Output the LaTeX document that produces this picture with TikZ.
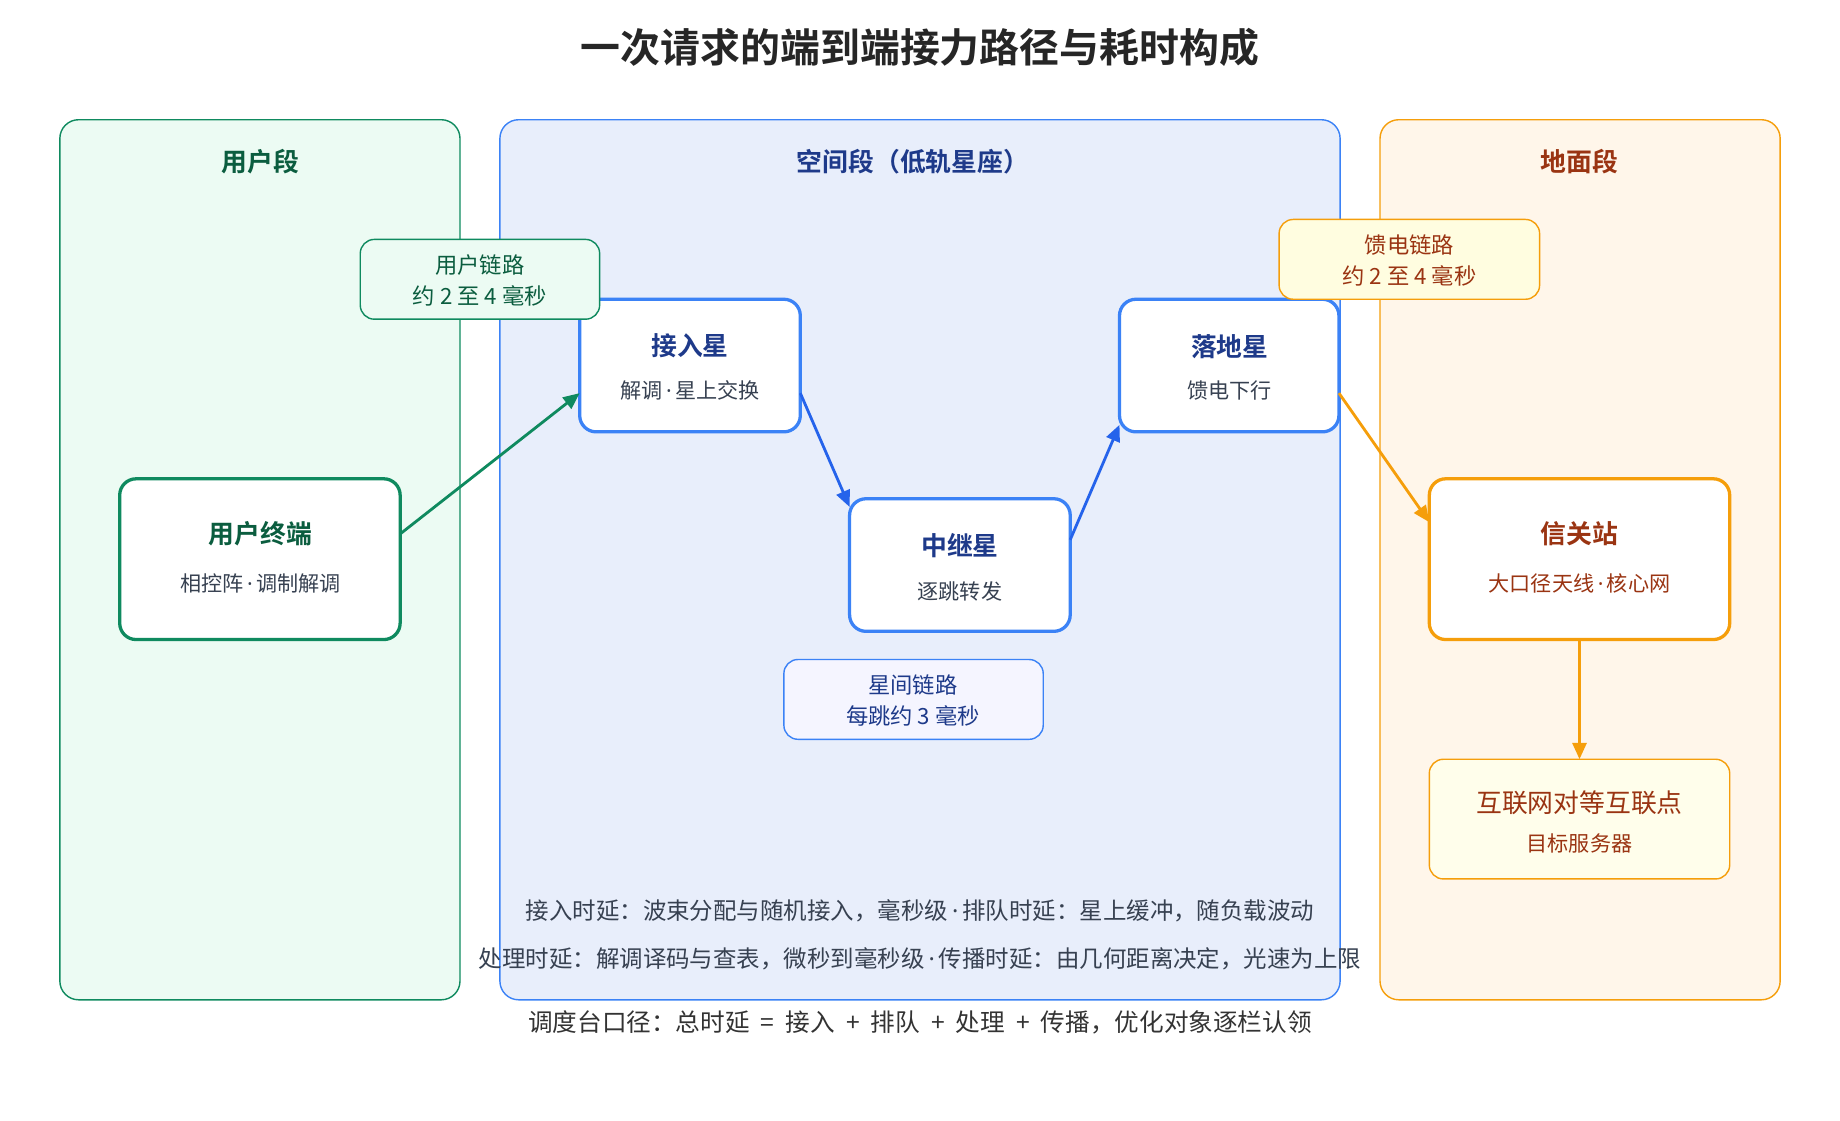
\documentclass[tikz,border=0pt]{standalone}
\usepackage{fontspec}
\setmainfont{Noto Sans CJK SC}
\newfontfamily\cjkb{Noto Sans CJK SC Bold}
\newfontfamily\latn{Noto Sans}
\newcommand{\md}{{\latn\,·\,}}
\usetikzlibrary{arrows.meta}
\definecolor{gB}{HTML}{0F8A5F}\definecolor{gF}{HTML}{ECFBF3}\definecolor{gT}{HTML}{0B5D3F}
\definecolor{bB}{HTML}{3B82F6}\definecolor{bF}{HTML}{E8EEFB}\definecolor{bT}{HTML}{1E3A8A}\definecolor{bA}{HTML}{2563EB}
\definecolor{oB}{HTML}{F59E0B}\definecolor{oF}{HTML}{FFF6EA}\definecolor{oT}{HTML}{9A3412}
\definecolor{tx}{HTML}{374151}
\begin{document}
\begin{tikzpicture}[x=0.5pt,y=-0.5pt,
 panel/.style={draw=#1,rounded corners=8pt,line width=0.6pt},
 box/.style={draw=#1,fill=white,rounded corners=7pt,line width=1.4pt},
 lbl/.style={draw=#1,rounded corners=6pt,line width=0.6pt},
 arr/.style={draw=#1,line width=1.2pt,-{Triangle[length=7pt,width=6pt]}},
 ttl/.style={font=\cjkb\fontsize{11}{13}\selectfont},
 sub/.style={font=\fontsize{9}{11}\selectfont,text=tx}]
\useasboundingbox (0,0) rectangle (1568,955);
\node[font=\cjkb\fontsize{17}{19}\selectfont,text=black!85] (title) at (784,40) {一次请求的端到端接力路径与耗时构成};
\filldraw[panel=gB,fill=gF] (51,102) rectangle (392,852);
\filldraw[panel=bB,fill=bF] (426,102) rectangle (1142,852);
\filldraw[panel=oB,fill=oF] (1176,102) rectangle (1517,852);
\node[ttl,text=gT] (t1) at (222,138) {用户段};
\node[ttl,text=bT] (t2) at (778,138) {空间段（低轨星座）};
\node[ttl,text=oT] (t3) at (1346,138) {地面段};
% nodes
\draw[box=gB] (102,408) rectangle (341,545);
\node[ttl,text=gT] at (222,455) {用户终端};
\node[sub] at (222,497) {相控阵\md 调制解调};
\draw[box=bB] (494,255) rectangle (682,368);
\node[ttl,text=bT] at (588,295) {接入星};
\node[sub] at (588,333) {解调\md 星上交换};
\draw[box=bB] (724,425) rectangle (912,538);
\node[ttl,text=bT] at (818,465) {中继星};
\node[sub] at (818,504) {逐跳转发};
\draw[box=bB] (954,255) rectangle (1141,368);
\node[ttl,text=bT] at (1048,295) {落地星};
\node[sub] at (1048,333) {馈电下行};
\draw[box=oB] (1218,408) rectangle (1474,545);
\node[ttl,text=oT] at (1346,455) {信关站};
\node[sub,text=oT] at (1346,497) {大口径天线\md 核心网};
\filldraw[lbl=oB,fill=yellow!8] (1218,647) rectangle (1474,749);
\node[font=\fontsize{11}{13}\selectfont,text=oT] at (1346,684) {互联网对等互联点};
\node[sub,text=oT] at (1346,719) {目标服务器};
% link labels
\filldraw[lbl=gB,fill=gF] (307,204) rectangle (511,272);
\node[align=center,font=\fontsize{9.5}{13}\selectfont,text=gT] at (409,239) {用户链路\\约 2 至 4 毫秒};
\filldraw[lbl=oB,fill=yellow!12] (1090,187) rectangle (1312,255);
\node[align=center,font=\fontsize{9.5}{13}\selectfont,text=oT] at (1201,222) {馈电链路\\约 2 至 4 毫秒};
\filldraw[lbl=bB,fill=blue!4] (668,562) rectangle (889,630);
\node[align=center,font=\fontsize{9.5}{13}\selectfont,text=bT] at (778,597) {星间链路\\每跳约 3 毫秒};
% arrows
\draw[arr=gB] (341,455) -- (494,335);
\draw[arr=bA] (682,335) -- (724,432);
\draw[arr=bA] (912,460) -- (954,362);
\draw[arr=oB] (1141,335) -- (1218,445);
\draw[arr=oB] (1346,545) -- (1346,647);
% notes
\node[font=\fontsize{10}{12}\selectfont,text=tx] at (784,776) {接入时延：波束分配与随机接入，毫秒级\md 排队时延：星上缓冲，随负载波动};
\node[font=\fontsize{10}{12}\selectfont,text=tx] at (784,817) {处理时延：解调译码与查表，微秒到毫秒级\md 传播时延：由几何距离决定，光速为上限};
\node[font=\fontsize{10.5}{12}\selectfont,text=black!80] at (784,871) {调度台口径：总时延\ \ =\ \ 接入\ \ +\ \ 排队\ \ +\ \ 处理\ \ +\ \ 传播，优化对象逐栏认领};
\end{tikzpicture}
\end{document}
